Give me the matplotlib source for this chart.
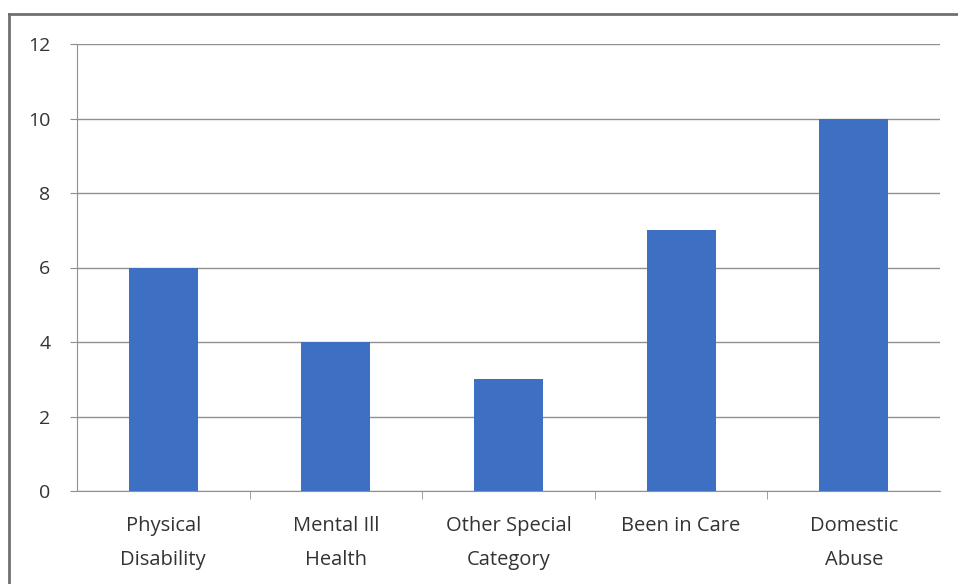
import matplotlib.pyplot as plt
from matplotlib.lines import Line2D

categories = ['Physical\nDisability', 'Mental Ill\nHealth', 'Other Special\nCategory',
              'Been in Care', 'Domestic\nAbuse']
counts = [6, 4, 3, 7, 10]
y_ticks = [0, 2, 4, 6, 8, 10, 12]

plt.rcParams['font.family'] = ['Open Sans', 'DejaVu Sans']

fig = plt.figure(figsize=(9.58, 5.84), dpi=100)
ax = fig.add_axes([77 / 958, 1 - 491 / 584, (940 - 77) / 958, (491 - 44) / 584])

x = list(range(len(categories)))
ax.bar(x, counts, width=0.4, color='#3d6fc2', zorder=3)

ax.set_xlim(-0.5, len(categories) - 0.5)
ax.set_ylim(0, 12)
ax.set_yticks(y_ticks)
ax.yaxis.grid(True, color='#909090', linewidth=1.0, zorder=0)

ax.set_xticks(x)
ax.set_xticklabels(categories, fontsize=14.5, color='#333333', linespacing=1.95)
ax.set_xticks([i + 0.5 for i in x[:-1]], minor=True)
ax.tick_params(axis='x', which='major', length=0, pad=18)
ax.tick_params(axis='x', which='minor', length=6, color='#909090')
ax.tick_params(axis='y', length=5, color='#909090', labelsize=14, labelcolor='#333333', pad=14)

for side in ['top', 'right']:
    ax.spines[side].set_visible(False)
for side in ['left', 'bottom']:
    ax.spines[side].set_color('#909090')

# outer chart frame along the top and left edges
fig.add_artist(Line2D([9 / 958, 9 / 958], [0, 1 - 14 / 584], transform=fig.transFigure,
                      color='#707070', linewidth=2))
fig.add_artist(Line2D([9 / 958, 1], [1 - 14 / 584, 1 - 14 / 584], transform=fig.transFigure,
                      color='#707070', linewidth=2))

fig.savefig('out.png', dpi=100)
